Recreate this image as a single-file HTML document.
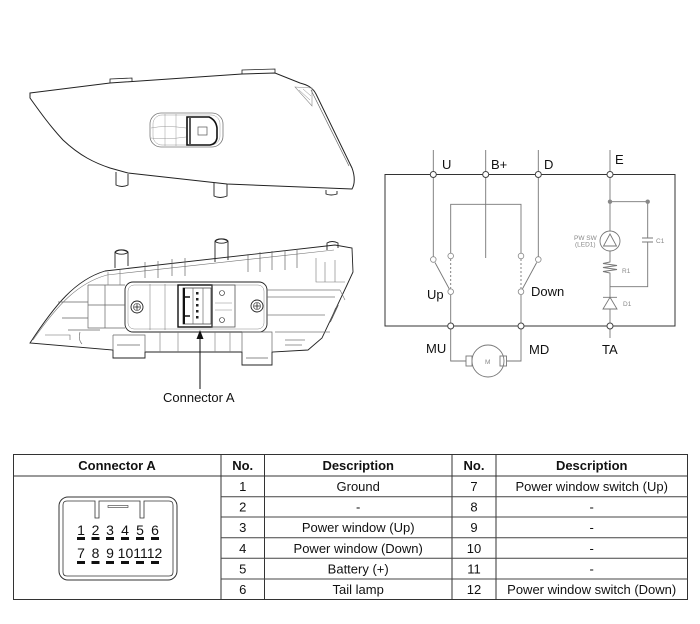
<!DOCTYPE html>
<html><head><meta charset="utf-8"><style>
html,body{margin:0;padding:0;background:#fff;}
svg{display:block;}
text{font-family:"Liberation Sans",Arial,sans-serif;}
</style></head><body>
<svg width="700" height="624" viewBox="0 0 700 624" xmlns="http://www.w3.org/2000/svg">
<rect width="700" height="624" fill="#fff"/>

<!-- ===== TOP DRAWING ===== -->
<g fill="none" stroke="#222" stroke-width="1">
  <path d="M30,93 L110,83 L242,74 L275,73 L300,83 C308,85 313,88 316,94 L352,168 C355,176 355,184 352,189 L227,184 L128,173 L110,168 C95,163 80,156 63,140 C50,126 40,112 30,98 Z"/>
  <path d="M311,90 L349,166" stroke="#666" stroke-width="0.7"/>
  <path d="M110,83 L110,79 L132,78 L132,81" stroke-width="0.8"/>
  <path d="M242,74 L242,70 L275,69 L275,73" stroke-width="0.8"/>
  <path d="M295,87 L312,88 L312,106 Z" stroke="#888" stroke-width="0.6"/>
  <path d="M299,90 L310,100 M303,89 L311,96" stroke="#888" stroke-width="0.5"/>
  <path d="M116,172 L116,185 Q122,188 128,185 L128,174" stroke-width="0.9"/>
  <path d="M214,183 L214,196 Q220,199 227,196 L227,184" stroke-width="0.9"/>
  <path d="M326,190 L326,194 Q331,196 337,194 L337,191" stroke-width="0.9"/>
  <rect x="150" y="113" width="73" height="34" rx="11" stroke="#777" stroke-width="0.8"/>
  <rect x="153" y="115" width="67" height="30" rx="9" stroke="#999" stroke-width="0.5"/>
  <path d="M165,114 L165,146 M176,114 L176,146 M151,128 Q165,125 186,128 M151,138 Q165,140 186,137" stroke="#999" stroke-width="0.5"/>
  <path d="M187,117 L209,117 Q216,120 217,128 L217,138 Q216,144 210,145 L187,145 Z" stroke="#111" stroke-width="1.6"/>
  <path d="M190,118 L190,144" stroke="#111" stroke-width="1.4"/>
  <rect x="198" y="127" width="9" height="8" stroke="#555" stroke-width="0.7"/>
</g>

<!-- ===== BOTTOM DRAWING ===== -->
<g fill="none" stroke="#222" stroke-width="0.9">
  <path d="M30,343 C55,305 75,280 105,271 L335,245 L352,248 L353,272 L347,285 L322,338 L308,350 L272,352 L272,365 L242,365 L242,352 L145,352 L145,358 L113,358 L113,350 Z"/>
  <path d="M33,340 C58,304 78,283 107,275 L334,250" stroke="#777" stroke-width="0.6"/>
  <path d="M115,268 L115,252 Q121,248 128,252 L128,266" />
  <ellipse cx="121.5" cy="252" rx="6" ry="2.2"/>
  <path d="M215,262 L215,241 Q221,237 228,241 L228,260" />
  <ellipse cx="221.5" cy="241" rx="6" ry="2.2"/>
  <path d="M327,250 L327,243 Q332,240 338,243 L338,248"/>
  <path d="M145,262 L145,278 M158,261 L158,278 M172,259 L172,276 M185,258 L185,276 M248,254 L248,272 M260,252 L260,272 M272,251 L272,270 M285,250 L285,270 M297,249 L297,268" stroke="#666" stroke-width="0.7"/>
  <rect x="125" y="282" width="142" height="50" rx="8"/>
  <rect x="128" y="285" width="136" height="44" rx="6" stroke="#888" stroke-width="0.5"/>
  <path d="M150,284 L150,330 M165,284 L165,330" stroke="#888" stroke-width="0.6"/>
  <path d="M88,285 L125,285 M88,285 L88,328 L125,328 M88,305 L125,305 M105,285 L105,328 M58,302 L88,302 M62,318 L88,318 M68,330 L100,330" stroke="#666" stroke-width="0.7"/>
  <path d="M108,272 L108,285 M120,270 L120,285" stroke="#777" stroke-width="0.6"/>
  <path d="M45,335 L70,335 L70,340 M80,332 Q78,340 82,344" stroke="#666" stroke-width="0.6"/>
  <path d="M267,297 L335,297 M267,315 L325,315 M267,290 L340,290 M275,332 L330,332 M285,340 L305,340 M285,345 L302,345" stroke="#777" stroke-width="0.7"/>
  <path d="M316,258 L316,282 L345,282 M325,262 L325,282 M335,260 L335,282 M340,290 L345,300" stroke="#777" stroke-width="0.6"/>
  <path d="M338,305 L330,322 M336,308 L332,318" stroke="#555" stroke-width="1.4"/>
  <path d="M113,335 L145,335 L145,352 M113,335 L113,350 M117,345 L140,345" stroke="#666" stroke-width="0.7"/>
  <path d="M242,332 L272,332 L272,352 M242,332 L242,352 M246,358 L268,358" stroke="#666" stroke-width="0.7"/>
  <path d="M160,332 L160,352 M178,332 L178,352 M215,332 L215,352 M230,332 L230,352" stroke="#777" stroke-width="0.6"/>
  <circle cx="137" cy="307" r="6"/>
  <circle cx="137" cy="307" r="3.5" stroke-width="0.6"/>
  <path d="M134,307 L140,307 M137,304 L137,310" stroke-width="0.8"/>
  <circle cx="257" cy="306" r="6"/>
  <circle cx="257" cy="306" r="3.5" stroke-width="0.6"/>
  <path d="M254,306 L260,306 M257,303 L257,309" stroke-width="0.8"/>
  <rect x="178" y="285" width="34" height="42" stroke="#111" stroke-width="1.4"/>
  <rect x="183" y="288" width="28" height="36" stroke="#333" stroke-width="0.7"/>
  <path d="M184,288 L184,324" stroke="#111" stroke-width="2"/>
  <path d="M184,297 L190,297 M184,316 L190,316" stroke="#111" stroke-width="1.6"/>
  <path d="M193,288 L193,324 M203,288 L203,324" stroke="#555" stroke-width="0.6"/>
  <g fill="#222" stroke="none">
    <rect x="196" y="292" width="2.5" height="2.5"/><rect x="196" y="298" width="2.5" height="2.5"/>
    <rect x="196" y="304" width="2.5" height="2.5"/><rect x="196" y="310" width="2.5" height="2.5"/>
    <rect x="196" y="316" width="2.5" height="2.5"/>
  </g>
  <rect x="212" y="285" width="23" height="42" stroke="#555" stroke-width="0.8"/>
  <path d="M215,303 L232,303 M215,310 L232,310" stroke="#888" stroke-width="0.5"/>
  <circle cx="222" cy="293" r="2.5" stroke-width="0.6"/>
  <circle cx="222" cy="320" r="2.5" stroke-width="0.6"/>
</g>
<line x1="200" y1="389" x2="200" y2="336" stroke="#111" stroke-width="1"/>
<path d="M200,330 L196.5,339 L203.5,339 Z" fill="#111"/>
<text x="163" y="402" font-size="13" fill="#111">Connector A</text>

<!-- ===== CIRCUIT ===== -->
<g fill="none" stroke="#777" stroke-width="0.9">
  <rect x="385" y="174.5" width="290" height="151.5" stroke="#333" stroke-width="1"/>
  <path d="M433.3,150 L433.3,256.5 M485.7,150 L485.7,258 M538.3,150 L538.3,256.5 M610,150 L610,231"/>
  <path d="M450.7,253 L450.7,204.3 L521,204.3 L521,253"/>
  <path d="M435,262.5 L449.3,289"/>
  <path d="M536.7,262.5 L522.4,289"/>
  <path d="M450.7,259 L450.7,288.5 M521,259 L521,288.5" stroke-dasharray="2,2"/>
  <path d="M450.7,295 L450.7,323 M521,295 L521,323 M610,329 L610,338"/>
  <path d="M450.7,329 L450.7,361 L466,361 M521,329 L521,361 L507,361"/>
  <rect x="466" y="356" width="6" height="10"/>
  <rect x="500" y="356" width="6.5" height="10"/>
  <circle cx="488" cy="361" r="16"/>
  <path d="M610,201.7 L647.7,201.7 L647.7,238 M647.7,242 L647.7,286.7 L610,286.7"/>
  <path d="M642,238 L653,238 M642,242 L653,242"/>
  <circle cx="610" cy="241" r="10"/>
  <path d="M610,234 L603.5,246 L616.5,246 Z"/>
  <path d="M610,251 L610,262 L603,263.5 L617,265.5 L603,267.5 L617,269.5 L603,271.5 L610,273 L610,297"/>
  <path d="M603,297.3 L617,297.3 M610,297.3 L603,309 L617,309 Z M610,309 L610,323"/>
</g>
<g fill="#888" stroke="none">
  <circle cx="610" cy="201.7" r="2.2"/>
  <circle cx="647.7" cy="201.7" r="2.2"/>
</g>
<g fill="#fff" stroke="#444" stroke-width="1">
  <circle cx="433.3" cy="174.5" r="3"/><circle cx="485.7" cy="174.5" r="3"/>
  <circle cx="538.3" cy="174.5" r="3"/><circle cx="610" cy="174.5" r="3"/>
  <circle cx="450.7" cy="326" r="3"/><circle cx="521" cy="326" r="3"/><circle cx="610" cy="326" r="3"/>
</g>
<g fill="#fff" stroke="#888" stroke-width="0.8">
  <circle cx="433.3" cy="259.5" r="2.8"/><circle cx="450.7" cy="256" r="2.8"/>
  <circle cx="450.7" cy="291.7" r="2.8"/><circle cx="521" cy="256" r="2.8"/>
  <circle cx="538.3" cy="259.5" r="2.8"/><circle cx="521" cy="291.7" r="2.8"/>
</g>
<g font-size="13" fill="#111">
  <text x="442" y="169">U</text>
  <text x="491" y="169">B+</text>
  <text x="544" y="169">D</text>
  <text x="615" y="164">E</text>
  <text x="427" y="299">Up</text>
  <text x="531" y="296">Down</text>
  <text x="426" y="353">MU</text>
  <text x="529" y="354">MD</text>
  <text x="602" y="354">TA</text>
</g>
<g font-size="6.5" fill="#888">
  <text x="574" y="240">PW SW</text>
  <text x="575" y="246.5">(LED1)</text>
  <text x="656" y="243">C1</text>
  <text x="622" y="273">R1</text>
  <text x="623" y="306">D1</text>
  <text x="485" y="364">M</text>
</g>

<!-- ===== TABLE ===== -->
<g stroke="#333" stroke-width="1" fill="none">
  <rect x="13.5" y="454.5" width="674" height="145"/>
  <line x1="13.5" y1="476" x2="687.5" y2="476"/>
  <line x1="221" y1="454.5" x2="221" y2="599.5"/>
  <line x1="264.5" y1="454.5" x2="264.5" y2="599.5"/>
  <line x1="452" y1="454.5" x2="452" y2="599.5"/>
  <line x1="496" y1="454.5" x2="496" y2="599.5"/>
  <g stroke="#444">
    <path d="M221,496.7 L687.5,496.7 M221,517 L687.5,517 M221,537.7 L687.5,537.7 M221,558.3 L687.5,558.3 M221,579 L687.5,579"/>
  </g>
</g>
<g font-size="13" fill="#111" text-anchor="middle">
  <g font-weight="bold">
    <text x="117" y="470">Connector A</text>
    <text x="242.7" y="470">No.</text>
    <text x="358.2" y="470">Description</text>
    <text x="474" y="470">No.</text>
    <text x="591.7" y="470">Description</text>
  </g>
  <text x="242.7" y="491">1</text><text x="242.7" y="511.5">2</text><text x="242.7" y="532">3</text>
  <text x="242.7" y="553">4</text><text x="242.7" y="573.5">5</text><text x="242.7" y="594">6</text>
  <text x="358.2" y="491">Ground</text><text x="358.2" y="511.5">-</text>
  <text x="358.2" y="532">Power window (Up)</text><text x="358.2" y="553">Power window (Down)</text>
  <text x="358.2" y="573.5">Battery (+)</text><text x="358.2" y="594">Tail lamp</text>
  <text x="474" y="491">7</text><text x="474" y="511.5">8</text><text x="474" y="532">9</text>
  <text x="474" y="553">10</text><text x="474" y="573.5">11</text><text x="474" y="594">12</text>
  <text x="591.7" y="491">Power window switch (Up)</text><text x="591.7" y="511.5">-</text>
  <text x="591.7" y="532">-</text><text x="591.7" y="553">-</text>
  <text x="591.7" y="573.5">-</text><text x="591.7" y="594">Power window switch (Down)</text>
</g>

<!-- connector face -->
<g fill="none" stroke="#333" stroke-width="1">
  <rect x="59" y="497" width="118" height="83" rx="9"/>
  <path d="M63,505 Q63,501 67,501 L95,501 L95,518 L99,518 L99,501 L140,501 L140,518 L144,518 L144,501 L169,501 Q173,501 173,505 L173,572 Q173,576 169,576 L67,576 Q63,576 63,572 Z" stroke-width="0.8"/>
  <rect x="108" y="505.5" width="20" height="2" stroke-width="0.6"/>
</g>
<g font-size="14" fill="#111" text-anchor="middle">
  <text x="81" y="535">1</text><text x="95.5" y="535">2</text><text x="110" y="535">3</text>
  <text x="125" y="535">4</text><text x="140" y="535">5</text><text x="155" y="535">6</text>
  <text x="81" y="558">7</text><text x="95.5" y="558">8</text><text x="110" y="558">9</text>
  <text x="140" y="558">101112</text>
</g>
<g fill="#111">
  <rect x="77" y="537" width="8" height="3"/><rect x="91.5" y="537" width="8" height="3"/>
  <rect x="106" y="537" width="8" height="3"/><rect x="121" y="537" width="8" height="3"/>
  <rect x="136" y="537" width="8" height="3"/><rect x="151" y="537" width="8" height="3"/>
  <rect x="77" y="561" width="8" height="3"/><rect x="91.5" y="561" width="8" height="3"/>
  <rect x="106" y="561" width="8" height="3"/><rect x="121" y="561" width="8" height="3"/>
  <rect x="136" y="561" width="8" height="3"/><rect x="151" y="561" width="8" height="3"/>
</g>
</svg>
</body></html>
